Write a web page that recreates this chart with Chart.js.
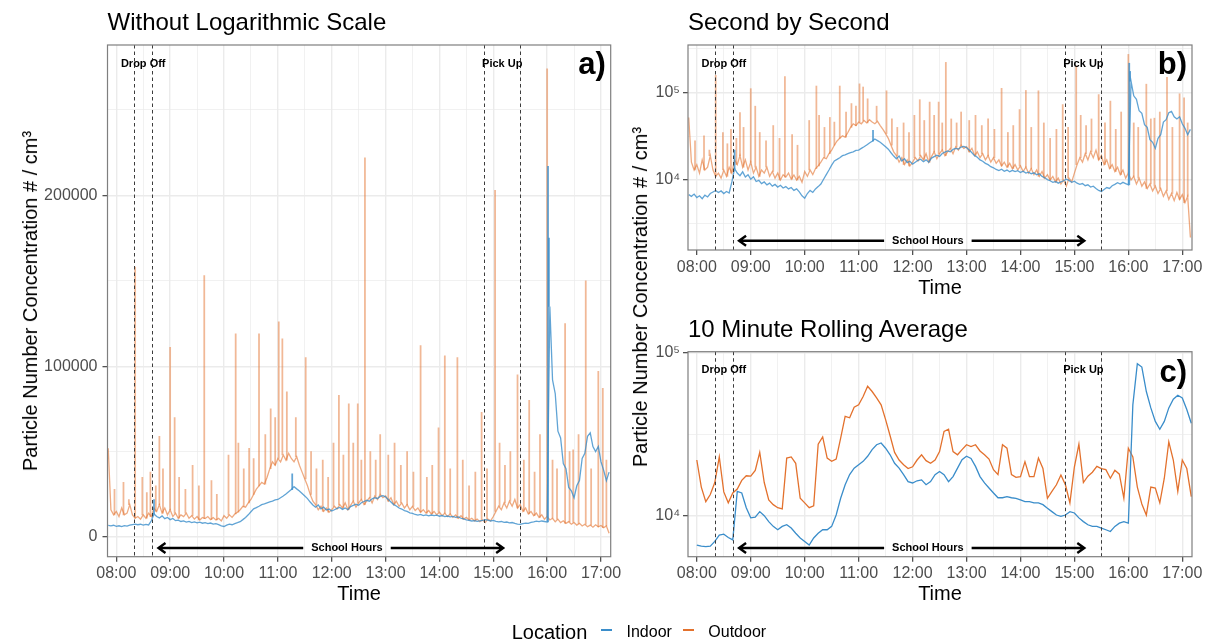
<!DOCTYPE html>
<html>
<head>
<meta charset="utf-8">
<script src="https://cdn.jsdelivr.net/npm/chart.js@4.4.1/dist/chart.umd.min.js"></script>
<style>
  body { margin: 0; width: 1211px; height: 642px; background: #fff; position: relative; overflow: hidden; }
  canvas { position: absolute; left: 0; top: 0; }
  .t { position: absolute; white-space: nowrap; color: #000; font-family: "Liberation Sans", Arial, Helvetica, sans-serif; }
  .ytitle { font-size: 20px; line-height: 20px; transform: translate(-50%, -50%) rotate(-90deg); }
  .key { position: absolute; height: 1.6px; width: 11px; }
</style>
</head>
<body>
<canvas id="chartA" width="1211" height="642"></canvas>
<canvas id="chartB" width="1211" height="642"></canvas>
<canvas id="chartC" width="1211" height="642"></canvas>

<div class="t" style="left:107.5px;top:9.7px;font-size:24px;line-height:24px">Without Logarithmic Scale</div>
<div class="t" style="left:688px;top:9.7px;font-size:24px;line-height:24px">Second by Second</div>
<div class="t" style="left:688px;top:316.7px;font-size:24px;line-height:24px">10 Minute Rolling Average</div>
<div class="t ytitle" style="left:30px;top:301px">Particle Number Concentration # / cm³</div>
<div class="t ytitle" style="left:640px;top:297px">Particle Number Concentration # / cm³</div>

<div class="t" style="left:511.7px;top:621.6px;font-size:20px;line-height:20px">Location</div>
<div class="key" style="left:601px;top:629.2px;background:#3a8dca"></div>
<div class="t" style="left:626.5px;top:623.8px;font-size:16px;line-height:16px">Indoor</div>
<div class="key" style="left:683px;top:629.2px;background:#e3712d"></div>
<div class="t" style="left:708.3px;top:623.8px;font-size:16px;line-height:16px">Outdoor</div>

<script>
const FONT = '"Liberation Sans", Arial, Helvetica, sans-serif';
Chart.defaults.font.family = FONT;

// time is minutes after midnight
const X_MIN = 470.2, X_MAX = 1030.8;
const hourTicks = [480, 540, 600, 660, 720, 780, 840, 900, 960, 1020];
const hourLabels = ['08:00', '09:00', '10:00', '11:00', '12:00', '13:00', '14:00', '15:00', '16:00', '17:00'];
const halfHourTicks = [510, 570, 630, 690, 750, 810, 870, 930, 990];

const dropOff = [500, 520];
const pickUp = [890, 930];
const schoolHours = [527, 911];
const schoolLabelAt = 737;

// second by second readings, one every 3 min from 07:51 (thousand particles / cm3)
const RAW_START = 471, RAW_STEP = 3;
const indoorRaw = [
  6.8, 6.5, 6.9,
  6.3, 6.6, 6.1, 6.7, 6.4, 7.0, 7.3, 7.6, 7.2, 7.5, 7.0, 7.4, 7.1, 9.5, 13.5, 12.0, 11.2, 12.4, 10.8, 11.5,
  10.2, 10.9, 9.6, 9.9, 9.1, 9.5, 8.8, 9.2, 8.5, 8.9, 8.3, 8.7, 8.1, 8.4, 7.9, 8.2, 7.6, 7.9, 7.3, 6.6,
  6.2, 7.0, 7.6, 7.2, 7.9, 8.4, 9.0, 10.2, 11.5, 13.0, 14.8, 16.5, 17.2, 18.0, 19.0, 19.4, 20.0, 20.6, 21.0, 21.8,
  22.0, 23.0, 24.0, 25.2, 26.5, 27.8, 29.5, 28.2, 27.0, 25.5, 24.0, 22.5, 20.5, 18.8, 17.5, 18.8, 16.5, 17.5, 15.8, 16.4,
  15.2, 16.0, 16.8, 17.3, 16.2, 17.0, 16.0, 17.8, 18.5, 19.2, 18.6, 20.1, 20.8, 21.5, 21.0, 22.4, 23.0, 22.6, 23.8, 24.2,
  23.5, 22.0, 20.5, 19.0, 18.2, 17.0, 16.4, 15.5, 15.0, 14.2, 13.8, 13.2, 12.8, 13.3, 12.6, 13.0, 12.4, 12.9, 12.5, 12.8,
  12.2, 12.6, 12.0, 12.3, 11.8, 12.1, 11.5, 11.8, 11.0, 10.6, 10.1, 9.8, 9.4, 9.6, 9.2, 9.5, 9.8, 10.2, 9.9, 9.4,
  9.7, 9.2, 8.9, 9.1, 8.6, 8.8, 8.3, 8.5, 8.0, 7.6, 7.4, 7.8, 8.2, 8.0, 8.6, 8.9, 9.3, 9.0, 9.4, 9.1,
  8.8, 135, 92, 84, 62, 58, 43, 40, 29, 27, 23, 30, 33, 46, 49, 59, 61, 53, 50, 53,
  44, 39, 33, 38
];
const outdoorRaw = [
  52, 16, 13,
  15, 12, 17, 13, 14, 19, 13, 11, 12, 10.5, 13, 11, 14, 12, 17, 15, 19, 14, 17, 13,
  16, 12, 14, 11, 13, 12, 14, 11, 12.5, 10.5, 12, 10, 11.5, 10.8, 12, 10.2, 11.4, 10, 11, 9.4,
  12.5, 11, 13, 11.5, 13.5, 14.5, 16, 18, 17.5, 20, 22, 25, 28, 30, 32, 31, 35, 40, 44, 42,
  46, 44, 48, 45, 49, 46, 44, 47, 42, 38, 34, 30, 25, 21, 19, 16, 18, 15, 17, 14.5,
  16, 18, 16.5, 19, 17, 20, 16, 18.5, 21, 17.5, 20, 22, 19, 21, 23, 20, 24, 22, 25, 23,
  24, 21, 23, 19, 21, 18, 20, 17, 19, 16, 18, 15.5, 17, 14.5, 16, 14, 15.5, 13.5, 15, 13,
  14.5, 12.5, 14, 12, 13.5, 11.5, 13, 11, 12.5, 10.5, 11.5, 10, 11, 9.5, 10.5, 9, 10, 8.5, 10.5, 9.5,
  12, 15, 18, 16, 20, 17, 21, 18, 22, 17, 19, 15, 17, 13.5, 15, 12.5, 14, 11.5, 13, 10.5,
  12, 10, 11, 9, 10.5, 8.5, 9.5, 8, 9, 7.5, 8.5, 7, 8, 6.5, 7.5, 6, 7, 5.8, 7.2, 6,
  6.8, 5.5, 6.5, 2.2
];

// short-lived peaks between the 3 min readings
const indoorPeakTimes = [522, 676, 961, 962];
const indoorPeaks = [22, 37, 217, 175];
const outdoorPeakTimes = [
  478, 488, 494, 501, 509, 514, 518, 524, 528, 532, 540, 545, 550, 557, 565, 572, 578, 586, 592, 605,
  613, 616, 622, 628, 633, 639, 646, 652, 657, 661, 665, 670, 680, 691, 697, 703, 710, 716, 722, 728,
  733, 739, 744, 749, 753, 757, 763, 769, 774, 783, 790, 797, 804, 811, 819, 826, 832, 839, 846, 852,
  860, 866, 873, 880, 887, 893, 902, 907, 913, 919, 927, 934, 940, 946, 952, 960, 966, 971, 980, 985,
  989, 995, 1003, 1009, 1017, 1022, 1026
];
const outdoorPeaks = [
  28, 32, 22, 158, 35, 26, 38, 30, 59, 40, 111, 70, 35, 28, 42, 30, 153, 33, 25, 48,
  119, 55, 40, 52, 46, 119, 60, 75, 70, 126, 116, 85, 70, 105, 50, 40, 45, 35, 55, 83,
  48, 78, 55, 78, 45, 222, 50, 45, 60, 48, 55, 42, 50, 38, 112, 35, 42, 64, 106, 40,
  105, 45, 30, 38, 73, 40, 203, 55, 42, 50, 95, 45, 80, 38, 60, 274, 45, 40, 125, 50,
  51, 60, 150, 40, 97, 87, 45
];

// 10 minute rolling average, every 5 min from 08:00 (thousand particles / cm3)
const AVG_START = 480, AVG_STEP = 5;
const indoorAvg = [
  6.6, 6.5, 6.45, 6.5, 6.95, 7.6, 7.7, 7.35, 7.1, 14.1, 13.8, 11.2,
  9.7, 9.8, 10.6, 10.0, 9.2, 8.6, 8.2, 8.6, 8.8, 8.4, 7.8, 7.3,
  6.95, 6.6, 7.3, 7.8, 8.2, 8.2, 8.6, 10.1, 12.8, 15.5, 17.9, 19.6,
  20.6, 21.6, 23.2, 25.5, 27.3, 28, 26, 23.7, 21, 19.6, 17.9, 16.2,
  15.9, 16.4, 16.6, 15.5, 16.2, 17.9, 18.7, 17.9, 16.2, 17.4, 19.6, 22.1,
  23.2, 22.5, 20.1, 17.4, 15.9, 14.8, 13.8, 12.9, 12.9, 13.1, 12.9, 12.8,
  12.5, 12.2, 12.2, 12.0, 12.0, 11.7, 11.1, 10.6, 10.1, 9.9, 10.1, 10.6,
  10.4, 9.7, 9.2, 8.8, 8.6, 8.6, 8.4, 8.2, 8.0, 8.6, 9.0, 9.2,
  9.0, 48, 86, 82, 58, 46, 38, 34, 38, 46, 52, 55,
  53, 45, 37
];
const outdoorAvg = [
  22, 15, 12.2, 13.5, 16, 23, 14, 12, 13.8, 14.6, 16.5, 17.6,
  17.5, 19, 24.5, 16, 12.5, 11.7, 11.2, 11, 22.6, 23, 21, 12.8,
  12, 11.2, 11.5, 27.5, 30.5, 22.6, 21.6, 22.3, 30, 40.8, 40, 46.5,
  48.1, 54, 62.5, 58, 53, 48, 39, 31, 24.5, 22, 20.6, 19.5,
  20, 22, 23.7, 21.8, 21, 22, 24.8, 33, 34, 24.8, 23.7, 25.5,
  27.3, 26.6, 27.3, 25, 23.7, 22.3, 19.2, 17.9, 27.3, 26, 17.9, 17.2,
  17.4, 21.5, 17.4, 17.4, 22.6, 19.5, 12.8, 14.1, 15.5, 17.8, 15.5, 12,
  20, 27.5, 16, 17.5, 18.5, 20.1, 19.5, 19.2, 17, 19, 18, 12.8,
  26, 23, 15, 11.8, 10.1, 15, 14.8, 12, 17, 28.5, 22, 14.1,
  22, 19.5, 13.1
];

const linMajor = [0, 100000, 200000];
const linLabels = ['0', '100000', '200000'];
const linMinor = [50000, 150000, 250000];
const logMajor = [10000, 100000];
const logLabels = ['10⁴', '10⁵'];
const logMinor = [3162, 31623, 316228];

const BLUE = '#3a8dca', ORANGE = '#e3712d';
const BLUE_RAW = 'rgba(58,141,202,0.8)', ORANGE_RAW = 'rgba(227,113,45,0.6)', ORANGE_PEAK = 'rgba(227,113,45,0.5)';
const PAGE_W = 1211, PAGE_H = 642;
const X_AXIS_H = 50.1;

function series(start, step, vals) {
  return vals.map((v, i) => ({ x: start + i * step, y: v * 1000 }));
}

// each peak rises from the nearest regular reading
function peakBars(times, peaks, start, step, vals) {
  return times.map((t, i) => {
    const base = vals[Math.min(vals.length - 1, Math.round((t - start) / step))];
    return { x: t, y: [base * 1000, peaks[i] * 1000] };
  });
}

function rawSets() {
  const bar = { type: 'bar', barThickness: 1.1, borderWidth: 0, grouped: false };
  return [
    { ...bar, data: peakBars(outdoorPeakTimes, outdoorPeaks, RAW_START, RAW_STEP, outdoorRaw), backgroundColor: ORANGE_PEAK, order: 4 },
    { data: series(RAW_START, RAW_STEP, outdoorRaw), borderColor: ORANGE_RAW, borderWidth: 1.3, order: 3 },
    { ...bar, data: peakBars(indoorPeakTimes, indoorPeaks, RAW_START, RAW_STEP, indoorRaw), backgroundColor: BLUE_RAW, order: 2 },
    { data: series(RAW_START, RAW_STEP, indoorRaw), borderColor: BLUE_RAW, borderWidth: 1.3, order: 1 }
  ];
}

function gridFor(major) {
  const isMajor = c => c.tick && major.includes(c.tick.value);
  return {
    color: '#ebebeb',
    lineWidth: c => isMajor(c) ? 1.4 : 0.7,
    drawTicks: true,
    tickLength: 5,
    tickWidth: 1.1,
    offset: false,
    tickColor: c => isMajor(c) ? '#333333' : 'rgba(0,0,0,0)'
  };
}

const overlay = {
  id: 'overlay',
  afterDatasetsDraw(chart, args, o) {
    const { ctx, chartArea: a } = chart;
    const x = chart.scales.x, y = chart.scales.y;
    ctx.save();
    ctx.strokeStyle = '#3c3c3c';
    ctx.lineWidth = 1;
    ctx.setLineDash([3.5, 3]);
    [...dropOff, ...pickUp].forEach(t => {
      const px = Math.round(x.getPixelForValue(t)) + 0.5;
      ctx.beginPath();
      ctx.moveTo(px, a.top);
      ctx.lineTo(px, a.bottom);
      ctx.stroke();
    });
    ctx.setLineDash([]);

    ctx.fillStyle = '#000';
    ctx.font = 'bold 11px ' + FONT;
    ctx.textAlign = 'center';
    ctx.textBaseline = 'alphabetic';
    ctx.fillText('Drop Off', x.getPixelForValue((dropOff[0] + dropOff[1]) / 2), a.top + o.textDy);
    ctx.fillText('Pick Up', x.getPixelForValue((pickUp[0] + pickUp[1]) / 2), a.top + o.textDy);

    // school hours arrow
    const ay = y.getPixelForValue(o.arrowY);
    const x0 = x.getPixelForValue(schoolHours[0]);
    const x1 = x.getPixelForValue(schoolHours[1]);
    const xm = x.getPixelForValue(schoolLabelAt);
    ctx.textBaseline = 'middle';
    ctx.fillText('School Hours', xm, ay);
    const half = ctx.measureText('School Hours').width / 2 + 8;
    ctx.strokeStyle = '#000';
    ctx.lineWidth = 2.4;
    ctx.beginPath();
    ctx.moveTo(x0, ay); ctx.lineTo(xm - half, ay);
    ctx.moveTo(xm + half, ay); ctx.lineTo(x1, ay);
    ctx.moveTo(x0 + 7, ay - 5); ctx.lineTo(x0, ay); ctx.lineTo(x0 + 7, ay + 5);
    ctx.moveTo(x1 - 7, ay - 5); ctx.lineTo(x1, ay); ctx.lineTo(x1 - 7, ay + 5);
    ctx.stroke();

    ctx.font = 'bold 31px ' + FONT;
    ctx.textAlign = 'right';
    ctx.textBaseline = 'alphabetic';
    ctx.fillText(o.tag, a.right - 5, a.top + o.tagDy);
    ctx.restore();
  },
  afterDraw(chart) {
    const { ctx, chartArea: a } = chart;
    ctx.save();
    ctx.strokeStyle = '#7f7f7f';
    ctx.lineWidth = 1.2;
    ctx.strokeRect(a.left, a.top, a.right - a.left, a.bottom - a.top);
    ctx.restore();
  }
};

function buildChart(p) {
  const allX = [...hourTicks, ...halfHourTicks].sort((a, b) => a - b);
  const allY = [...p.yMajor, ...p.yMinor].filter(v => v >= p.yMin && v <= p.yMax).sort((a, b) => a - b);
  new Chart(document.getElementById(p.id), {
    type: 'line',
    data: { datasets: p.datasets },
    options: {
      responsive: false,
      animation: false,
      events: [],
      layout: {
        padding: {
          left: p.area.left - p.yWidth,
          top: p.area.top,
          right: PAGE_W - p.area.right,
          bottom: PAGE_H - p.area.bottom - X_AXIS_H
        }
      },
      elements: { point: { radius: 0 }, line: { tension: 0 } },
      plugins: {
        legend: { display: false },
        tooltip: { enabled: false },
        overlay: { tag: p.tag, tagDy: p.tagDy, textDy: p.textDy, arrowY: p.arrowY }
      },
      scales: {
        x: {
          type: 'linear',
          offset: false,
          min: X_MIN,
          max: X_MAX,
          afterBuildTicks: s => { s.ticks = allX.map(v => ({ value: v })); },
          afterFit: s => { s.height = X_AXIS_H; },
          ticks: {
            autoSkip: false, maxRotation: 0, minRotation: 0, padding: 2.5,
            color: '#4d4d4d', font: { size: 16 },
            callback: v => { const i = hourTicks.indexOf(v); return i >= 0 ? hourLabels[i] : ''; }
          },
          grid: gridFor(hourTicks),
          border: { display: false },
          title: { display: true, text: 'Time', color: '#000', font: { size: 20 }, padding: 0 }
        },
        y: {
          type: p.yType,
          min: p.yMin,
          max: p.yMax,
          afterBuildTicks: s => { s.ticks = allY.map(v => ({ value: v })); },
          afterFit: s => { s.width = p.yWidth; },
          ticks: {
            autoSkip: false, padding: p.yPad,
            color: '#4d4d4d', font: { size: 16 },
            callback: v => { const i = p.yMajor.indexOf(v); return i >= 0 ? p.yLabels[i] : ''; }
          },
          grid: gridFor(p.yMajor),
          border: { display: false }
        }
      }
    },
    plugins: [overlay]
  });
}

buildChart({
  id: 'chartA',
  area: { left: 107.5, right: 610.7, top: 45, bottom: 556.7 },
  yWidth: 107.5, yPad: 5,
  yType: 'linear', yMin: -11500, yMax: 288000,
  yMajor: linMajor, yMinor: linMinor, yLabels: linLabels,
  datasets: rawSets(),
  tag: 'a)', tagDy: 28.5, textDy: 22, arrowY: -6400
});

buildChart({
  id: 'chartB',
  area: { left: 688, right: 1192, top: 45, bottom: 250 },
  yWidth: 60, yPad: 3,
  yType: 'logarithmic', yMin: 1580, yMax: 351000,
  yMajor: logMajor, yMinor: logMinor, yLabels: logLabels,
  datasets: rawSets(),
  tag: 'b)', tagDy: 28.5, textDy: 22, arrowY: 2020
});

buildChart({
  id: 'chartC',
  area: { left: 688, right: 1192, top: 351.7, bottom: 556.7 },
  yWidth: 60, yPad: 3,
  yType: 'logarithmic', yMin: 5600, yMax: 101900,
  yMajor: logMajor, yMinor: logMinor, yLabels: logLabels,
  datasets: [
    { data: series(AVG_START, AVG_STEP, outdoorAvg), borderColor: ORANGE, borderWidth: 1.3, order: 2 },
    { data: series(AVG_START, AVG_STEP, indoorAvg), borderColor: BLUE, borderWidth: 1.3, order: 1 }
  ],
  tag: 'c)', tagDy: 30.3, textDy: 21.5, arrowY: 6330
});
</script>
</body>
</html>
